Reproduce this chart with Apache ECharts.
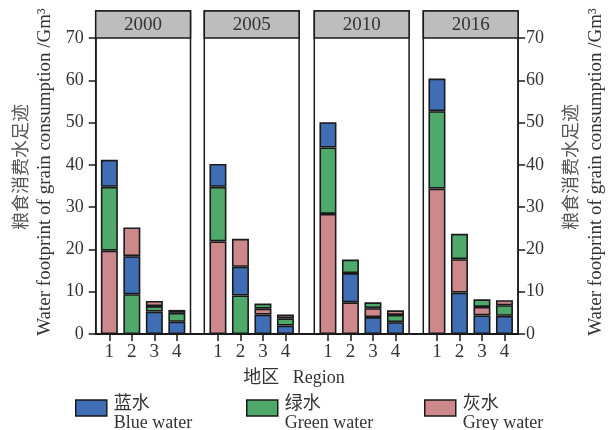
<!DOCTYPE html>
<html>
<head>
<meta charset="utf-8">
<script src="https://cdn.jsdelivr.net/npm/echarts@6/dist/echarts.min.js"></script>
<style>
  html, body { margin: 0; padding: 0; background: #fff; }
  #chart { width: 609px; height: 430px; }
</style>
</head>
<body>
<div id="chart"></div>
<script>
// Water footprint of grain consumption (Gm³) by region, one panel per year
const years = ['2000', '2005', '2010', '2016'];
const regions = ['1', '2', '3', '4'];
// one row per year, one value per region
const blueWater  = [[6.4, 9.0, 5.3, 2.9], [5.4, 6.8, 4.6, 2.0], [6.0, 6.9, 4.0, 2.8], [7.7, 9.8, 4.4, 4.3]];
const greenWater = [[15.1, 9.4, 1.3, 2.1], [12.9, 9.1, 1.2, 1.7], [15.7, 3.2, 1.4, 1.7], [18.3, 6.0, 1.8, 2.5]];
const greyWater  = [[19.7, 6.8, 1.2, 0.7], [21.9, 6.6, 1.4, 0.9], [28.4, 7.5, 2.1, 1.1], [34.4, 7.9, 2.0, 1.2]];
const typeNamesZh = ['蓝水', '绿水', '灰水'];
const typeNamesEn = ['Blue water', 'Green water', 'Grey water'];
const yMin = 0, yMax = 70, yStep = 10;

const typeColors = ['#3f6eb5', '#4fa96a', '#cd888b'];
const waterTypes = [blueWater, greenWater, greyWater].map((values, k) => ({
  values, zh: typeNamesZh[k], name: typeNamesEn[k], color: typeColors[k]
}));

const SERIF = '"Liberation Serif", "Noto Sans CJK SC", serif';
const INK = '#1a1a1a';
const TEXT = '#333';

// panel layout (pixels)
const panelLeft = [95.7, 204.3, 314.3, 423.3];
const panelW = 94.8;
const headTop = 11, plotTop = 38, plotBottom = 334;
const innerPad = 2.4;

const grid = [{ left: panelLeft[0], top: plotTop, width: panelLeft[3] + panelW - panelLeft[0], height: plotBottom - plotTop }];
const xAxis = [{
  gridIndex: 0, type: 'value', min: 0, max: 1, position: 'bottom',
  axisLine: { show: true, lineStyle: { color: INK, width: 1.8 } },
  axisTick: { show: false }, axisLabel: { show: false }, splitLine: { show: false }
}];
const yAxisCommon = {
  gridIndex: 0, type: 'value', min: yMin, max: yMax, interval: yStep,
  axisLine: { show: true, lineStyle: { color: INK, width: 1.5 } },
  axisTick: { show: true, length: 7, lineStyle: { color: INK, width: 1.5 } },
  splitLine: { show: false }
};
const yAxis = [
  Object.assign({}, yAxisCommon, { position: 'left', axisLabel: { margin: 12, fontSize: 18, color: TEXT, fontFamily: SERIF } }),
  Object.assign({}, yAxisCommon, { position: 'right', axisLabel: { margin: 8, fontSize: 18, color: TEXT, fontFamily: SERIF } })
];

const series = [];
const graphic = [];

years.forEach((yr, p) => {
  grid.push({ left: panelLeft[p] + innerPad, top: plotTop, width: panelW - 2 * innerPad, height: plotBottom - plotTop });
  xAxis.push({
    gridIndex: p + 1, type: 'category', data: regions,
    axisLine: { show: false },
    axisTick: { show: true, alignWithLabel: true, length: 7, lineStyle: { color: INK, width: 1.5 } },
    axisLabel: { margin: 9, fontSize: 19, color: TEXT, fontFamily: SERIF }
  });
  yAxis.push({ gridIndex: p + 1, type: 'value', min: yMin, max: yMax, interval: yStep, show: false });

  // in every bar the largest component sits at the base, the smallest on top
  const order = regions.map((_, c) =>
    waterTypes.map((t, k) => k).sort((a, b) => waterTypes[b].values[p][c] - waterTypes[a].values[p][c]));
  for (let r = 0; r < waterTypes.length; r++) {
    series.push({
      type: 'bar', xAxisIndex: p + 1, yAxisIndex: p + 2, stack: 'y' + p, barWidth: 17,
      silent: true,
      itemStyle: { borderColor: INK, borderWidth: 1.6 },
      data: regions.map((_, c) => {
        const t = waterTypes[order[c][r]];
        return { value: t.values[p][c], itemStyle: { color: t.color } };
      })
    });
  }

  // panel frame and year strip
  graphic.push({
    type: 'rect', z: 1,
    shape: { x: panelLeft[p], y: headTop, width: panelW, height: plotBottom - headTop },
    style: { fill: 'none', stroke: INK, lineWidth: 1.5 }
  });
  graphic.push({
    type: 'rect', z: 1,
    shape: { x: panelLeft[p], y: headTop, width: panelW, height: plotTop - headTop },
    style: { fill: '#bdbdbd', stroke: INK, lineWidth: 1.5 }
  });
  graphic.push({
    type: 'text', z: 2, x: panelLeft[p] + panelW / 2, y: (headTop + plotTop) / 2 + 1,
    style: { text: yr, fontSize: 19, fontFamily: SERIF, fill: TEXT, align: 'center', verticalAlign: 'middle' }
  });
});

// empty series that only feed the legend
waterTypes.forEach(t => series.push({
  type: 'bar', name: t.name, xAxisIndex: 1, yAxisIndex: 2, stack: 'y0', data: [],
  itemStyle: { color: t.color, borderColor: INK, borderWidth: 1.5 }
}));

// axis titles, both sides
const titleZh = '粮食消费水足迹';
const titleEn = 'Water footprint of grain consumption /Gm³';
[[20, 45], [570, 596]].forEach(([xz, xe]) => {
  graphic.push({
    type: 'text', x: xz, y: 167, rotation: Math.PI / 2,
    style: { text: titleZh, fontSize: 18, fontFamily: '"Noto Sans CJK SC"', fill: '#555', align: 'center', verticalAlign: 'middle' }
  });
  graphic.push({
    type: 'text', x: xe, y: 172, rotation: Math.PI / 2,
    style: { text: titleEn, fontSize: 19, fontFamily: SERIF, fill: TEXT, align: 'center', verticalAlign: 'middle' }
  });
});
graphic.push({
  type: 'text', x: 294, y: 378,
  style: { text: '地区   Region', fontSize: 18, fontFamily: SERIF, fill: TEXT, align: 'center', verticalAlign: 'middle' }
});

// legend: swatch level with the Chinese line, English line below
const legendLeft = [75, 246, 424];
const legend = waterTypes.map((t, k) => ({
  data: [t.name], left: legendLeft[k], top: 387, orient: 'horizontal', padding: 0,
  icon: 'rect', itemWidth: 31, itemHeight: 16, selectedMode: false,
  itemStyle: { borderColor: INK, borderWidth: 1.5 },
  formatter: () => '{s| }\n{a|' + t.zh + '}\n{a|' + t.name + '}',
  textStyle: {
    fontSize: 18, fontFamily: SERIF, color: TEXT,
    rich: {
      s: { fontSize: 4, lineHeight: 11 },
      a: { fontSize: 18, lineHeight: 19, fontFamily: SERIF, color: TEXT, padding: [0, 0, 0, 2] }
    }
  }
}));

const chart = echarts.init(document.getElementById('chart'), null, { renderer: 'canvas' });
chart.setOption({
  animation: false,
  backgroundColor: '#fff',
  grid, xAxis, yAxis, series, legend, graphic
});
</script>
</body>
</html>
